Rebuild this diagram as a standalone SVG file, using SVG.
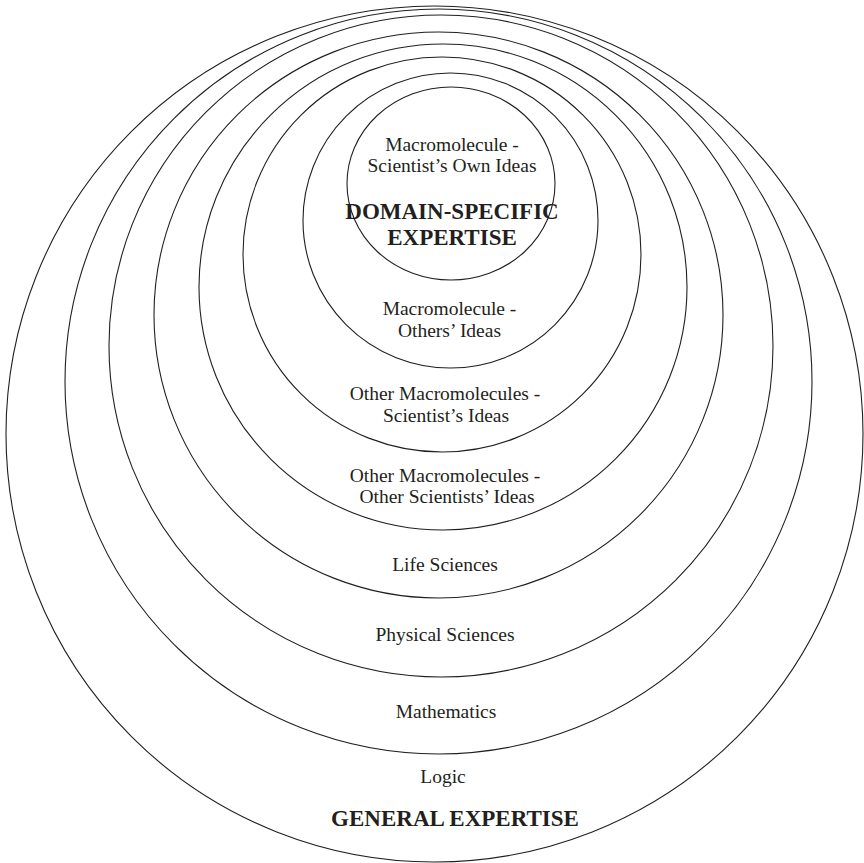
<svg xmlns="http://www.w3.org/2000/svg" width="864" height="863" viewBox="0 0 864 863">
<style>
.ring{fill:none;stroke:#231f20;stroke-width:1.1}
.lbl{font-family:"Liberation Serif","Times New Roman",serif;font-size:19.5px;fill:#231f20;text-anchor:middle}
.big{font-family:"Liberation Serif","Times New Roman",serif;font-size:23px;font-weight:bold;fill:#231f20;text-anchor:middle}
</style>
<rect width="864" height="863" fill="#fff"/>
<g id="ring8-general">
<ellipse class="ring" cx="434.5" cy="434" rx="428.5" ry="428"/>
<text class="big" x="455" y="826">GENERAL EXPERTISE</text>
</g>
<g id="ring7-logic">
<ellipse class="ring" cx="438.5" cy="381.5" rx="373.5" ry="372.5"/>
<text class="lbl" x="443" y="783">Logic</text>
</g>
<g id="ring6-mathematics">
<ellipse class="ring" cx="441" cy="346" rx="332" ry="331"/>
<text class="lbl" x="446" y="718">Mathematics</text>
</g>
<g id="ring5-physical">
<ellipse class="ring" cx="438.5" cy="315" rx="284.5" ry="283"/>
<text class="lbl" x="445" y="641">Physical Sciences</text>
</g>
<g id="ring4-life">
<ellipse class="ring" cx="443" cy="287" rx="244" ry="243"/>
<text class="lbl" x="445" y="571">Life Sciences</text>
</g>
<g id="ring3-other-others">
<ellipse class="ring" cx="442" cy="254.5" rx="199" ry="197.5"/>
<text class="lbl" x="445" y="482">Other Macromolecules -</text>
<text class="lbl" x="447" y="503">Other Scientists’ Ideas</text>
</g>
<g id="ring2-other-scientist">
<ellipse class="ring" cx="450.5" cy="220.5" rx="147.5" ry="147.5"/>
<text class="lbl" x="445" y="400">Other Macromolecules -</text>
<text class="lbl" x="446" y="422">Scientist’s Ideas</text>
</g>
<g id="ring1-macro-others">
<ellipse class="ring" cx="451" cy="183.5" rx="104" ry="96.5"/>
<text class="lbl" x="449.5" y="315">Macromolecule -</text>
<text class="lbl" x="449.5" y="337">Others’ Ideas</text>
</g>
<g id="core-macro-own">
<text class="lbl" x="452" y="151">Macromolecule -</text>
<text class="lbl" x="452" y="172">Scientist’s Own Ideas</text>
<text class="big" x="452" y="219">DOMAIN-SPECIFIC</text>
<text class="big" x="452" y="245">EXPERTISE</text>
</g>
</svg>
